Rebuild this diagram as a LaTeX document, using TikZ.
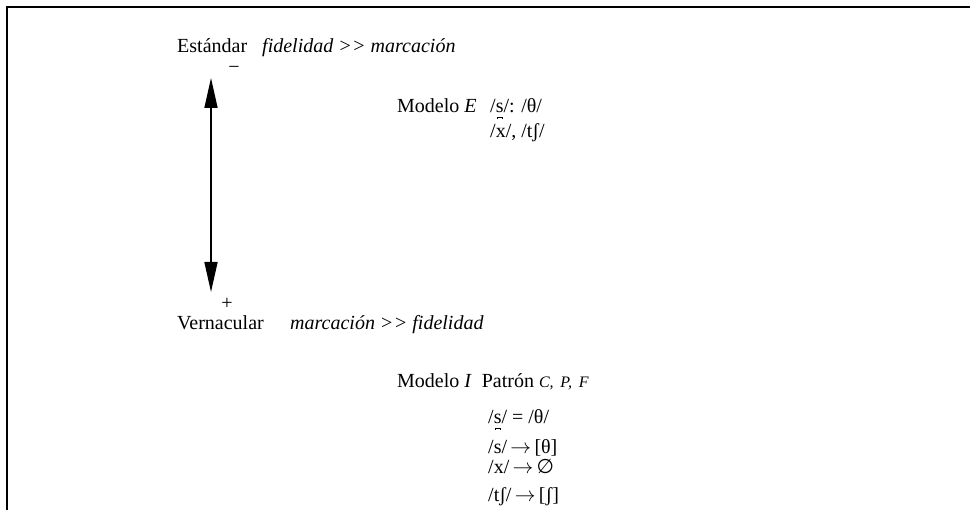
\documentclass[tikz,border=0pt]{standalone}
\usepackage{fontspec}
\setmainfont{Liberation Serif}
\newfontfamily\symfont{DejaVu Sans}
\usetikzlibrary{arrows.meta}
\newcommand\sbr{\leavevmode\hbox{s\llap{\hbox to 0.389em{\hss\rlap{\rule[-0.31em]{0.04em}{0.1em}}\rule[-0.25em]{0.3em}{0.04em}\llap{\rule[-0.31em]{0.04em}{0.1em}}\hss}}}}
\newcommand\gtgt{>\kern0.02em>}
\newcommand\arr{\,$\rightarrow$\,}
\begin{document}
\begin{tikzpicture}[x=1pt,y=-1pt,
  txt/.style={anchor=base west,inner sep=0pt,font=\fontsize{20}{24}\selectfont},
  sign/.style={anchor=center,inner sep=0pt,font=\fontsize{20}{24}\selectfont},
  frame/.style={line width=2.5pt},
  dbl/.style={line width=1.6pt,{Triangle[length=30pt,width=13pt]}-{Triangle[length=30pt,width=13pt]}}]
\useasboundingbox (0,0) rectangle (970,510);
\draw[frame] (7,510) -- (7,7) -- (970,7);
% top
\node[txt] (est) at (177,53) {Estándar};
\node[txt] (fid) at (262,53) {\itshape fidelidad \gtgt{} marcación};
\node[sign] (minus) at (234,70) {−};
\coordinate (atop) at (211,78);
\coordinate (abot) at (211,292);
\draw[dbl] (atop) -- (abot);
\node[sign] (plus) at (227,304) {+};
\node[txt] (ver) at (177,330) {Vernacular};
\node[txt] (mar) at (290,330) {\itshape marcación \gtgt{} fidelidad};
% model E
\node[txt] (modE) at (397,113) {Modelo \textit{E}};
\node[txt] (sE) at (490,113) {/\sbr/: /θ/};
\node[txt] (xE) at (490,138) {/x/, /tʃ/};
% model I
\node[txt] (modI) at (397,388) {Modelo \textit{I}\enspace Patrón {\fontsize{16}{18}\selectfont\itshape C,\, P,\, F}};
\node[txt] (r1) at (488,424) {/\sbr/ = /θ/};
\node[txt] (r2) at (488,454) {/s/\arr[θ]};
\node[txt] (r3) at (488,474) {/x/\arr{\symfont ∅}};
\node[txt] (r4) at (488,502) {/tʃ/\arr[ʃ]};
\end{tikzpicture}
\end{document}
